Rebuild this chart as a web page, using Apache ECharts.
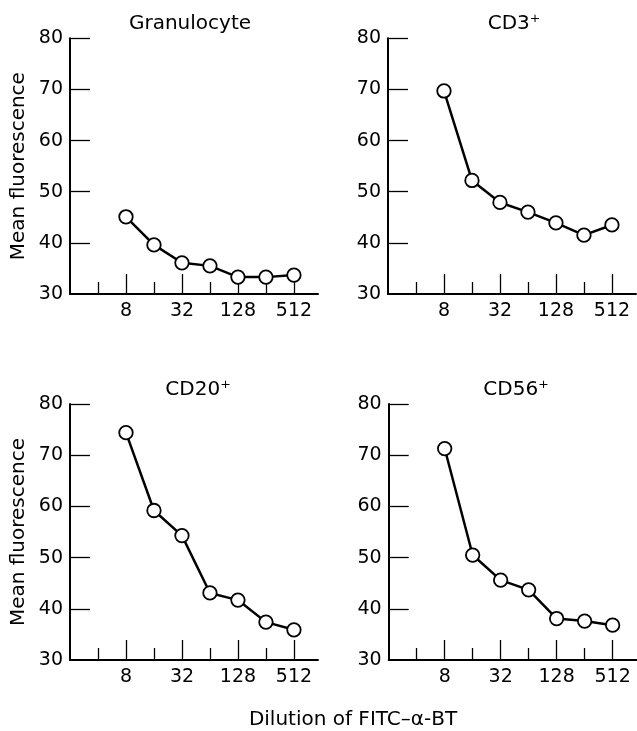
<!DOCTYPE html>
<html>
<head>
<meta charset="utf-8">
<script src="https://cdn.jsdelivr.net/npm/echarts@6/dist/echarts.min.js"></script>
<style>html,body{margin:0;padding:0;background:#fff}#c{width:637px;height:731px}</style>
</head>
<body>
<div id="c"></div>
<script>
const dilutions = [8, 16, 32, 64, 128, 256, 512];
const granulocyte = [45.1, 39.6, 36.1, 35.5, 33.3, 33.3, 33.7];
const cd3 = [69.7, 52.2, 47.9, 46.0, 43.9, 41.5, 43.5];
const cd20 = [74.4, 59.2, 54.3, 43.1, 41.7, 37.4, 35.9];
const cd56 = [71.3, 50.5, 45.6, 43.7, 38.1, 37.6, 36.8];
const majorTicks = [8, 32, 128, 512];
const minorTicks = [4, 16, 64, 256];
const yTicks = [40, 50, 60, 70, 80];
const titles = ['Granulocyte', 'CD3\u207A', 'CD20\u207A', 'CD56\u207A'];
const seriesData = [granulocyte, cd3, cd20, cd56];

const FONT = 'DejaVu Sans';
const grids = [
  {left: 70, top: 38.3, width: 248, height: 255.7},
  {left: 388, top: 38.3, width: 248, height: 255.7},
  {left: 70, top: 404, width: 248, height: 256},
  {left: 388.7, top: 404, width: 248, height: 256}
];
const titlePos = [[190, 24], [514, 24], [198, 390], [516, 390]];
const xMin = 1, xMax = 9.86;

const xAxes = [], yAxes = [], series = [], graphics = [];
grids.forEach((g, i) => {
  xAxes.push({
    type: 'value', gridIndex: i, min: xMin, max: xMax, interval: 1,
    axisLine: {show: true, lineStyle: {color: '#000', width: 2}},
    axisTick: {show: true, inside: true, length: 20, lineStyle: {color: '#000', width: 1.3},
      customValues: majorTicks.map(v => Math.log2(v))},
    axisLabel: {show: true, color: '#000', fontFamily: FONT, fontSize: 19, margin: 8,
      customValues: majorTicks.map(v => Math.log2(v)),
      formatter: v => String(Math.round(Math.pow(2, v)))},
    splitLine: {show: false}
  });
  xAxes.push({
    type: 'value', gridIndex: i, min: xMin, max: xMax, interval: 1, position: 'bottom',
    axisLine: {show: false},
    axisTick: {show: true, inside: true, length: 12, lineStyle: {color: '#000', width: 1.3},
      customValues: minorTicks.map(v => Math.log2(v))},
    axisLabel: {show: false},
    splitLine: {show: false}
  });
  yAxes.push({
    type: 'value', gridIndex: i, min: 30, max: 80, interval: 10,
    name: (i % 2 === 0) ? 'Mean fluorescence' : '',
    nameLocation: 'middle', nameGap: 41, nameRotate: 90,
    nameTextStyle: {color: '#000', fontFamily: FONT, fontSize: 20},
    axisLine: {show: true, lineStyle: {color: '#000', width: 2}},
    axisTick: {show: true, inside: true, length: 20, lineStyle: {color: '#000', width: 1.3},
      customValues: yTicks},
    axisLabel: {color: '#000', fontFamily: FONT, fontSize: 19, margin: 7},
    splitLine: {show: false}
  });
  series.push({
    type: 'line', xAxisIndex: i * 2, yAxisIndex: i,
    data: dilutions.map((d, k) => [Math.log2(d), seriesData[i][k]]),
    symbol: 'circle', symbolSize: 13.5,
    lineStyle: {color: '#000', width: 2.5},
    itemStyle: {color: '#fff', borderColor: '#000', borderWidth: 1.8},
    silent: true, animation: false, z: 3
  });
  graphics.push({
    type: 'text',
    x: titlePos[i][0], y: titlePos[i][1],
    style: {text: titles[i], fill: '#000', font: '20px ' + FONT, textAlign: 'center', textVerticalAlign: 'middle'}
  });
});
graphics.push({
  type: 'text', x: 353, y: 720,
  style: {text: 'Dilution of FITC\u2013\u03B1-BT', fill: '#000', font: '20px ' + FONT, textAlign: 'center', textVerticalAlign: 'middle'}
});

const chart = echarts.init(document.getElementById('c'), null, {renderer: 'canvas'});
chart.setOption({
  animation: false,
  backgroundColor: '#fff',
  grid: grids,
  xAxis: xAxes,
  yAxis: yAxes,
  series: series,
  graphic: graphics
});
</script>
</body>
</html>
